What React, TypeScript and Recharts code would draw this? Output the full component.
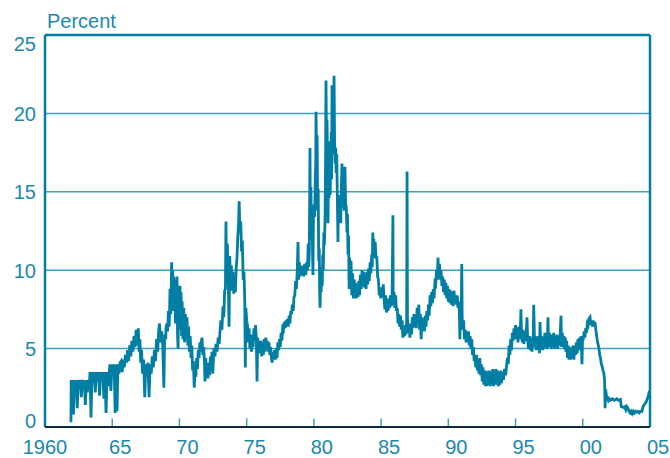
import React from "react";
import { LineChart, Line, XAxis, YAxis, ReferenceLine } from "recharts";

// federal funds rate as [year, percent]
const rates1960s: [number, number][] = [
  [1961.93, 0.3], [1961.95, 3.0], [1962.0, 1.5], [1962.05, 3.0], [1962.12, 0.8], [1962.18, 3.0],
  [1962.25, 2.0], [1962.32, 3.0], [1962.4, 1.2], [1962.47, 3.0], [1962.55, 2.4], [1962.62, 3.0],
  [1962.7, 1.9], [1962.78, 3.0], [1962.85, 2.6], [1962.92, 3.0], [1963.0, 1.4], [1963.08, 3.0],
  [1963.15, 2.2], [1963.22, 3.0], [1963.3, 2.7], [1963.35, 3.5], [1963.42, 0.6], [1963.5, 3.5],
  [1963.58, 2.8], [1963.66, 3.5], [1963.74, 2.2], [1963.82, 3.5], [1963.9, 2.9], [1963.98, 3.5],
  [1964.06, 2.0], [1964.14, 3.5], [1964.22, 3.0], [1964.3, 3.5], [1964.38, 1.8], [1964.46, 3.5],
  [1964.54, 0.9], [1964.62, 3.5], [1964.7, 2.6], [1964.78, 3.5], [1964.83, 4.0], [1964.9, 2.3],
  [1964.98, 4.0], [1965.06, 3.2], [1965.14, 4.0], [1965.22, 0.9], [1965.3, 4.0], [1965.36, 1.0],
  [1965.42, 4.0], [1965.5, 3.4], [1965.58, 4.1], [1965.66, 4.2], [1965.74, 3.5], [1965.82, 4.3],
  [1965.9, 3.8], [1965.98, 4.6], [1966.06, 4.1], [1966.14, 4.9], [1966.22, 4.2], [1966.3, 5.2],
  [1966.38, 4.5], [1966.46, 5.5], [1966.54, 4.8], [1966.62, 5.8], [1966.7, 5.1], [1966.78, 6.2],
  [1966.86, 5.2], [1966.94, 6.3], [1967.0, 4.8], [1967.06, 5.6], [1967.12, 4.1], [1967.18, 4.9],
  [1967.26, 3.4], [1967.34, 4.3], [1967.42, 1.9], [1967.5, 4.0], [1967.58, 3.2], [1967.66, 4.1],
  [1967.74, 1.9], [1967.82, 4.0], [1967.9, 3.4], [1967.98, 4.5], [1968.06, 3.8], [1968.14, 4.9],
  [1968.22, 4.2], [1968.3, 5.6], [1968.38, 4.8], [1968.46, 6.2], [1968.52, 6.6], [1968.6, 5.4],
  [1968.68, 6.1], [1968.76, 5.2], [1968.84, 2.5], [1968.9, 5.9], [1968.98, 5.6], [1969.0, 6.3],
  [1969.06, 6.6], [1969.12, 6.1], [1969.18, 7.4], [1969.24, 6.4], [1969.3, 8.8], [1969.36, 7.2],
  [1969.42, 10.5], [1969.46, 8.0], [1969.5, 10.0], [1969.54, 7.4], [1969.58, 9.6], [1969.62, 7.8],
  [1969.66, 9.4], [1969.7, 6.6], [1969.74, 9.2], [1969.78, 7.0], [1969.82, 9.6], [1969.86, 5.8],
  [1969.9, 5.0], [1969.94, 8.4], [1969.98, 6.8],
];

const rates1970s: [number, number][] = [
  [1970.04, 9.0], [1970.08, 6.2], [1970.12, 8.6], [1970.16, 5.8], [1970.2, 8.0], [1970.26, 5.6],
  [1970.32, 7.6], [1970.38, 5.4], [1970.44, 7.2], [1970.5, 5.8], [1970.56, 7.0], [1970.62, 5.2],
  [1970.68, 6.4], [1970.74, 4.8], [1970.8, 5.8], [1970.86, 4.4], [1970.92, 5.2], [1970.98, 3.6],
  [1971.04, 4.2], [1971.1, 2.5], [1971.16, 3.8], [1971.22, 3.2], [1971.28, 4.4], [1971.34, 3.7],
  [1971.4, 4.9], [1971.46, 4.4], [1971.52, 5.4], [1971.58, 4.8], [1971.64, 5.5], [1971.68, 5.7],
  [1971.74, 4.6], [1971.8, 5.1], [1971.86, 4.2], [1971.9, 2.9], [1971.96, 4.4], [1972.0, 3.3],
  [1972.06, 3.9], [1972.12, 3.1], [1972.18, 4.1], [1972.24, 3.3], [1972.3, 4.5], [1972.36, 3.8],
  [1972.42, 4.8], [1972.48, 3.4], [1972.56, 5.0], [1972.64, 4.5], [1972.72, 5.3], [1972.8, 4.8],
  [1972.88, 5.7], [1972.96, 5.3], [1973.0, 5.9], [1973.08, 6.8], [1973.16, 6.2], [1973.24, 7.7],
  [1973.3, 7.0], [1973.36, 8.7], [1973.42, 8.8], [1973.46, 13.1], [1973.5, 9.8], [1973.56, 11.7],
  [1973.62, 10.0], [1973.69, 6.4], [1973.74, 10.9], [1973.8, 9.2], [1973.86, 10.3], [1973.92, 8.7],
  [1973.98, 9.9], [1974.04, 8.5], [1974.1, 9.3], [1974.16, 8.6], [1974.22, 10.1], [1974.28, 10.8],
  [1974.34, 12.1], [1974.4, 13.0], [1974.44, 14.4], [1974.5, 12.4], [1974.56, 13.1], [1974.62, 11.2],
  [1974.68, 11.9], [1974.74, 9.4], [1974.8, 9.9], [1974.86, 8.0], [1974.9, 3.8], [1974.94, 7.6],
  [1975.0, 6.8], [1975.06, 6.5], [1975.12, 5.4], [1975.18, 6.3], [1975.24, 5.0], [1975.3, 5.9],
  [1975.36, 4.8], [1975.42, 5.7], [1975.48, 5.1], [1975.54, 6.3], [1975.6, 5.5], [1975.66, 6.5],
  [1975.72, 5.6], [1975.77, 2.9], [1975.82, 5.7], [1975.88, 4.8], [1975.94, 5.5], [1976.0, 4.7],
  [1976.06, 5.5], [1976.12, 4.5], [1976.18, 5.3], [1976.24, 4.6], [1976.3, 5.6], [1976.36, 4.8],
  [1976.42, 5.7], [1976.48, 5.0], [1976.54, 5.5], [1976.6, 4.8], [1976.66, 5.4], [1976.72, 4.6],
  [1976.78, 5.1], [1976.84, 4.4], [1976.9, 4.1], [1976.96, 4.8], [1977.02, 4.4], [1977.08, 4.9],
  [1977.14, 4.3], [1977.2, 5.0], [1977.26, 4.4], [1977.32, 5.4], [1977.38, 4.9], [1977.44, 5.6],
  [1977.5, 5.1], [1977.56, 6.0], [1977.62, 5.5], [1977.68, 6.3], [1977.74, 6.2], [1977.8, 6.7],
  [1977.86, 6.3], [1977.92, 6.8], [1977.98, 6.4], [1978.04, 6.9], [1978.1, 6.4], [1978.16, 7.1],
  [1978.22, 6.6], [1978.28, 7.4], [1978.34, 7.2], [1978.4, 7.8], [1978.46, 7.4], [1978.52, 8.3],
  [1978.58, 8.4], [1978.64, 9.3], [1978.7, 8.8], [1978.76, 9.9], [1978.82, 11.8], [1978.86, 9.4],
  [1978.92, 10.5], [1978.98, 9.6], [1979.04, 10.2], [1979.1, 9.7], [1979.16, 10.3], [1979.24, 9.6],
  [1979.32, 10.4], [1979.4, 9.7], [1979.46, 10.5], [1979.52, 10.0], [1979.58, 11.7], [1979.62, 10.2],
  [1979.66, 11.2], [1979.71, 17.8], [1979.74, 12.4], [1979.78, 15.3], [1979.82, 12.0], [1979.86, 13.6],
  [1979.9, 11.2], [1979.93, 9.7], [1979.97, 13.8],
];

const rates1980s: [number, number][] = [
  [1980.02, 14.2], [1980.06, 13.4], [1980.1, 15.8], [1980.14, 16.8], [1980.16, 20.1], [1980.2, 16.8],
  [1980.24, 18.6], [1980.28, 13.8], [1980.32, 15.2], [1980.36, 10.6], [1980.4, 11.4], [1980.43, 8.6],
  [1980.46, 7.6], [1980.5, 9.8], [1980.54, 8.6], [1980.58, 10.2], [1980.62, 9.0], [1980.66, 11.0],
  [1980.7, 10.0], [1980.74, 12.4], [1980.78, 11.6], [1980.83, 13.2], [1980.87, 17.0], [1980.9, 22.1],
  [1980.94, 18.0], [1980.98, 19.6], [1981.02, 15.6], [1981.05, 13.0], [1981.09, 16.8], [1981.13, 14.6],
  [1981.17, 18.2], [1981.21, 14.8], [1981.25, 16.6], [1981.29, 18.8], [1981.32, 15.8], [1981.35, 21.8],
  [1981.4, 17.4], [1981.44, 19.4], [1981.5, 22.4], [1981.54, 18.2], [1981.58, 16.8], [1981.62, 17.8],
  [1981.66, 16.2], [1981.7, 17.4], [1981.74, 15.0], [1981.79, 11.8], [1981.83, 14.8], [1981.88, 13.4],
  [1981.94, 14.4], [1982.0, 13.0], [1982.04, 15.2], [1982.09, 16.8], [1982.14, 14.0], [1982.2, 15.6],
  [1982.26, 13.8], [1982.31, 16.6], [1982.36, 14.2], [1982.41, 14.0], [1982.46, 12.4], [1982.5, 13.6],
  [1982.54, 11.0], [1982.58, 12.2], [1982.62, 8.8], [1982.66, 10.8], [1982.7, 9.0], [1982.76, 10.6],
  [1982.82, 8.4], [1982.88, 9.8], [1982.94, 8.2], [1983.0, 9.4], [1983.04, 8.3], [1983.1, 9.2],
  [1983.16, 8.2], [1983.22, 9.1], [1983.28, 8.3], [1983.34, 9.3], [1983.4, 8.4], [1983.46, 9.7],
  [1983.52, 8.8], [1983.58, 10.0], [1983.64, 9.0], [1983.7, 9.9], [1983.76, 8.9], [1983.82, 9.8],
  [1983.88, 8.8], [1983.94, 9.9], [1984.0, 9.1], [1984.06, 10.1], [1984.12, 9.3], [1984.18, 10.5],
  [1984.24, 9.8], [1984.3, 11.0], [1984.34, 10.2], [1984.38, 12.4], [1984.42, 11.0], [1984.46, 12.0],
  [1984.5, 10.8], [1984.56, 11.8], [1984.62, 10.8], [1984.68, 10.8], [1984.74, 9.6], [1984.8, 9.4],
  [1984.86, 8.4], [1984.92, 8.6], [1984.98, 8.2], [1985.04, 8.9], [1985.1, 8.3], [1985.16, 9.1],
  [1985.22, 8.2], [1985.28, 7.5], [1985.34, 8.4], [1985.4, 7.3], [1985.46, 8.1], [1985.52, 7.4],
  [1985.58, 8.2], [1985.64, 7.6], [1985.7, 8.4], [1985.76, 7.7], [1985.82, 8.5], [1985.88, 13.5],
  [1985.9, 7.8], [1985.96, 8.6], [1986.02, 7.6], [1986.08, 8.4], [1986.14, 7.4], [1986.2, 7.6],
  [1986.26, 6.6], [1986.32, 7.2], [1986.38, 6.4], [1986.44, 7.1], [1986.5, 6.2], [1986.56, 6.8],
  [1986.62, 5.7], [1986.68, 6.4], [1986.74, 5.8], [1986.8, 6.5], [1986.86, 5.9], [1986.9, 6.8],
  [1986.93, 16.3], [1986.96, 6.9], [1987.02, 6.0], [1987.08, 6.6], [1987.14, 5.7], [1987.2, 6.5],
  [1987.26, 5.9], [1987.32, 7.0], [1987.38, 6.3], [1987.44, 7.2], [1987.5, 6.4], [1987.56, 7.0],
  [1987.62, 6.3], [1987.68, 7.6], [1987.74, 6.8], [1987.8, 7.8], [1987.86, 6.2], [1987.92, 7.2],
  [1987.98, 5.6], [1988.04, 7.0], [1988.1, 6.2], [1988.16, 6.9], [1988.22, 6.1], [1988.28, 7.1],
  [1988.34, 6.4], [1988.4, 7.4], [1988.46, 6.8], [1988.52, 7.8], [1988.58, 7.1], [1988.64, 8.4],
  [1988.7, 7.7], [1988.76, 8.6], [1988.82, 7.9], [1988.88, 8.8], [1988.94, 8.2], [1989.0, 9.2],
  [1989.06, 9.1], [1989.12, 10.0], [1989.18, 9.4], [1989.23, 10.8], [1989.28, 9.6], [1989.34, 10.4],
  [1989.4, 9.4], [1989.46, 10.0], [1989.52, 9.0], [1989.58, 9.6], [1989.64, 8.6], [1989.7, 9.4],
  [1989.76, 8.4], [1989.82, 9.2], [1989.88, 8.2], [1989.94, 9.0],
];

const rates1990s: [number, number][] = [
  [1990.0, 8.0], [1990.06, 8.8], [1990.12, 7.9], [1990.18, 8.7], [1990.24, 7.8], [1990.3, 8.6],
  [1990.36, 7.7], [1990.42, 8.7], [1990.48, 8.0], [1990.54, 8.2], [1990.6, 7.8], [1990.66, 8.4],
  [1990.72, 7.6], [1990.78, 8.0], [1990.82, 7.4], [1990.86, 5.6], [1990.9, 7.6], [1990.96, 7.2],
  [1991.0, 10.4], [1991.03, 7.0], [1991.08, 6.2], [1991.14, 6.8], [1991.2, 5.6], [1991.26, 6.2],
  [1991.32, 5.4], [1991.38, 6.1], [1991.44, 5.4], [1991.5, 6.1], [1991.56, 5.2], [1991.62, 5.8],
  [1991.68, 5.0], [1991.74, 5.6], [1991.8, 4.6], [1991.86, 5.1], [1991.92, 4.2], [1991.98, 4.4],
  [1992.04, 3.8], [1992.1, 4.6], [1992.16, 3.6], [1992.22, 4.3], [1992.28, 3.4], [1992.34, 4.4],
  [1992.4, 3.3], [1992.46, 4.0], [1992.52, 2.9], [1992.58, 3.8], [1992.64, 2.7], [1992.7, 3.6],
  [1992.76, 2.6], [1992.82, 3.6], [1992.88, 2.6], [1992.94, 3.5], [1993.0, 2.7], [1993.06, 3.6],
  [1993.12, 2.6], [1993.18, 3.5], [1993.24, 2.7], [1993.3, 3.7], [1993.36, 2.6], [1993.42, 3.6],
  [1993.48, 2.7], [1993.54, 3.7], [1993.6, 2.7], [1993.66, 3.6], [1993.72, 2.6], [1993.78, 3.5],
  [1993.84, 2.7], [1993.9, 3.6], [1993.96, 2.8], [1994.02, 3.5], [1994.1, 3.0], [1994.18, 3.7],
  [1994.26, 3.3], [1994.34, 4.0], [1994.4, 4.4], [1994.46, 4.0], [1994.52, 5.2], [1994.58, 4.6],
  [1994.64, 5.6], [1994.7, 4.9], [1994.76, 6.0], [1994.82, 5.5], [1994.88, 6.3], [1994.94, 5.6],
  [1995.0, 6.5], [1995.06, 5.6], [1995.12, 6.3], [1995.18, 5.4], [1995.24, 6.4], [1995.3, 5.6],
  [1995.36, 6.2], [1995.4, 7.5], [1995.44, 5.9], [1995.5, 5.4], [1995.56, 6.2], [1995.62, 5.3],
  [1995.7, 6.1], [1995.74, 5.5], [1995.8, 6.1], [1995.85, 7.0], [1995.9, 5.6], [1995.96, 5.0],
  [1996.04, 5.8], [1996.1, 4.9], [1996.16, 5.7], [1996.22, 4.8], [1996.28, 5.6], [1996.32, 5.9],
  [1996.35, 7.8], [1996.42, 5.1], [1996.48, 5.8], [1996.54, 4.9], [1996.6, 5.7], [1996.66, 4.9],
  [1996.72, 5.8], [1996.78, 4.7], [1996.82, 6.7], [1996.88, 5.0], [1996.94, 5.8], [1997.0, 4.9],
  [1997.06, 5.7], [1997.12, 5.0], [1997.18, 6.0], [1997.24, 5.1], [1997.3, 5.9], [1997.36, 5.0],
  [1997.41, 7.0], [1997.46, 5.1], [1997.52, 6.0], [1997.58, 5.2], [1997.62, 5.9], [1997.66, 5.0],
  [1997.72, 5.8], [1997.78, 5.1], [1997.84, 6.0], [1997.9, 5.0], [1997.96, 5.8], [1998.02, 5.1],
  [1998.08, 5.9], [1998.14, 5.0], [1998.2, 5.8], [1998.26, 5.2], [1998.32, 5.9], [1998.38, 7.1],
  [1998.42, 5.1], [1998.48, 6.0], [1998.54, 5.2], [1998.6, 5.8], [1998.64, 5.0], [1998.7, 5.7],
  [1998.74, 4.8], [1998.8, 5.5], [1998.86, 4.4], [1998.92, 5.2], [1998.98, 4.3], [1999.04, 5.0],
  [1999.1, 4.3], [1999.16, 5.1], [1999.22, 4.4], [1999.28, 5.2], [1999.34, 4.3], [1999.4, 5.2],
  [1999.46, 4.6], [1999.52, 5.4], [1999.58, 4.7], [1999.64, 5.6], [1999.7, 4.9], [1999.76, 5.7],
  [1999.82, 5.1], [1999.88, 5.8], [1999.94, 4.0], [1999.98, 5.6],
];

const rates2000s: [number, number][] = [
  [2000.04, 5.6], [2000.1, 6.1], [2000.16, 5.7], [2000.22, 6.3], [2000.28, 6.0], [2000.34, 6.6],
  [2000.4, 6.5], [2000.46, 6.9], [2000.54, 7.0], [2000.6, 6.5], [2000.66, 6.8], [2000.72, 6.4],
  [2000.78, 6.8], [2000.84, 6.4], [2000.9, 6.7], [2000.96, 6.3], [2001.02, 5.9], [2001.08, 5.5],
  [2001.13, 5.3], [2001.2, 5.0], [2001.26, 4.6], [2001.32, 4.4], [2001.38, 4.0], [2001.44, 3.9],
  [2001.5, 3.6], [2001.56, 3.5], [2001.62, 3.0], [2001.66, 1.2], [2001.7, 2.4], [2001.76, 2.0],
  [2001.82, 1.9], [2001.9, 1.7], [2001.96, 1.8], [2002.04, 1.7], [2002.2, 1.8], [2002.36, 1.7],
  [2002.52, 1.8], [2002.68, 1.7], [2002.8, 1.75], [2002.86, 1.3], [2003.0, 1.25], [2003.12, 1.3],
  [2003.2, 1.1], [2003.28, 1.3], [2003.36, 1.2], [2003.44, 1.0], [2003.52, 0.9], [2003.6, 1.0],
  [2003.68, 0.85], [2003.76, 1.0], [2003.84, 0.9], [2003.92, 1.0], [2004.0, 0.95], [2004.1, 1.0],
  [2004.2, 0.9], [2004.3, 1.0], [2004.4, 1.0], [2004.48, 1.3], [2004.56, 1.4], [2004.64, 1.5],
  [2004.72, 1.6], [2004.8, 1.8], [2004.88, 2.0], [2004.96, 2.3],
];

const yearTicks = [1960, 1965, 1970, 1975, 1980, 1985, 1990, 1995, 2000, 2005];
const percentTicks = [0, 5, 10, 15, 20, 25];

const data = [...rates1960s, ...rates1970s, ...rates1980s, ...rates1990s, ...rates2000s].map(
  ([t, v]) => ({ t, v })
);

const TEAL = "#007ea4";
const TEXT = "#1a88b0";
const GRID = "#3f9fc2";
const FONT = "'Liberation Sans', Arial, Helvetica, sans-serif";

const yearLabel = (t: number) => (t === 1960 ? "1960" : String(t % 100).padStart(2, "0"));

const XTick = ({ x, y, payload }: any) => {
  const v = payload.value;
  return (
    <text x={v === 1960 ? x : x + 8} y={y + 19} textAnchor="middle" fill={TEXT} fontSize={20} fontFamily={FONT}>
      {yearLabel(v)}
    </text>
  );
};

const YTick = ({ y, payload }: any) => {
  const v = payload.value;
  const dy = v === 25 ? 16 : v === 0 ? 1 : 7.5;
  return (
    <text x={36} y={y + dy} textAnchor="end" fill={TEXT} fontSize={20} fontFamily={FONT}>
      {v}
    </text>
  );
};

export default function App() {
  return (
    <div style={{ position: "absolute", left: 0, top: 0, width: 670, height: 458, background: "#fff" }}>
      <div
        style={{
          position: "absolute", left: 47, top: 11, fontSize: 20, lineHeight: "20px",
          fontFamily: FONT, color: TEXT,
        }}
      >
        Percent
      </div>
      <LineChart width={670} height={458} data={data} margin={{ top: 35, right: 20, left: 0, bottom: 0 }}>
        <XAxis
          dataKey="t"
          type="number"
          domain={[1960, 2005]}
          ticks={yearTicks}
          tick={<XTick />}
          tickLine={false}
          axisLine={false}
          height={31}
          allowDataOverflow
        />
        <YAxis
          type="number"
          domain={[0, 25]}
          ticks={percentTicks}
          tick={<YTick />}
          tickLine={false}
          axisLine={false}
          width={45}
          allowDataOverflow
        />
        {[5, 10, 15, 20].map((p) => (
          <ReferenceLine key={p} y={p} stroke={GRID} strokeWidth={1.5} />
        ))}
        <Line
          type="linear"
          dataKey="v"
          stroke={TEAL}
          strokeWidth={2.8}
          strokeLinejoin="miter"
          dot={false}
          isAnimationActive={false}
        />
        {yearTicks.slice(1, -1).map((t) => (
          <ReferenceLine
            key={t}
            segment={[{ x: t, y: 0 }, { x: t, y: 0.55 }]}
            stroke={GRID}
            strokeWidth={1.5}
          />
        ))}
        <ReferenceLine x={1960} stroke={TEAL} strokeWidth={2.5} />
        <ReferenceLine x={2005} stroke={TEAL} strokeWidth={2.5} />
        <ReferenceLine y={25} stroke={TEAL} strokeWidth={2.5} />
        <ReferenceLine y={0} stroke="#0f2a3c" strokeWidth={2} />
      </LineChart>
    </div>
  );
}
